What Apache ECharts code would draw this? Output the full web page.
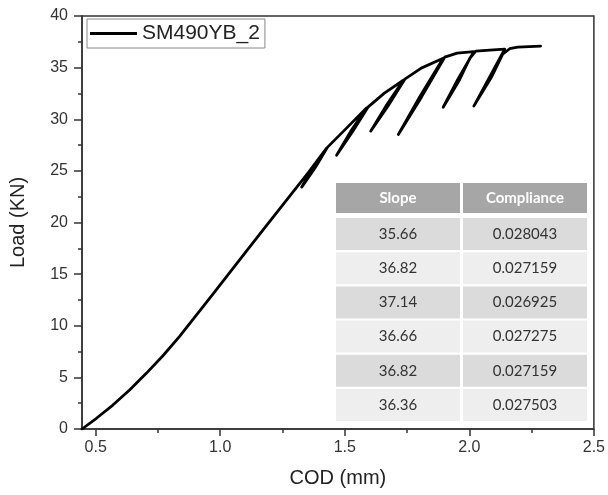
<!DOCTYPE html>
<html><head><meta charset="utf-8">
<script src="https://cdn.jsdelivr.net/npm/echarts@6/dist/echarts.min.js"></script>
<style>html,body{margin:0;padding:0;background:#fff}#c{width:608px;height:495px}</style>
</head><body><div id="c"></div>
<script>
const seriesName = 'SM490YB_2';
// [COD (mm), Load (KN)], in drawing order
const codLoad = [
  [0.445, 0.00], [0.503, 1.04], [0.569, 2.32], [0.636, 3.78], [0.703, 5.39],
  [0.769, 7.07], [0.836, 8.94], [0.969, 13.02], [1.102, 17.13], [1.168, 19.17],
  [1.282, 22.65], [1.355, 24.88],
  [1.427, 27.20], [1.373, 25.31], [1.327, 23.43], [1.381, 25.31], [1.431, 27.30],
  [1.507, 29.14],
  [1.587, 31.08], [1.523, 28.80], [1.467, 26.52], [1.531, 28.80], [1.593, 31.17],
  [1.659, 32.53],
  [1.735, 33.78], [1.665, 31.27], [1.604, 28.85], [1.673, 31.27], [1.741, 33.88],
  [1.807, 34.95],
  [1.895, 35.91], [1.801, 32.19], [1.715, 28.53], [1.809, 32.19], [1.901, 36.01],
  [1.951, 36.40],
  [2.018, 36.54], [1.953, 33.83], [1.895, 31.17], [1.961, 33.83], [2.002, 35.91], [2.026, 36.59],
  [2.082, 36.69],
  [2.142, 36.79], [2.080, 34.03], [2.018, 31.27], [2.088, 34.03], [2.134, 36.30], [2.162, 36.83],
  [2.194, 36.98], [2.286, 37.08]
];
const xMajorTicks = [0.5, 1.0, 1.5, 2.0, 2.5];
const xMinorTicks = [0.75, 1.25, 1.75, 2.25];
const tableHeaders = ['Slope', 'Compliance'];
const slopes = [35.66, 36.82, 37.14, 36.66, 36.82, 36.36];
const compliances = ['0.028043', '0.027159', '0.026925', '0.027275', '0.027159', '0.027503'];

const FONT = 'Liberation Sans, Arial, sans-serif';
const AX = '#333';

// table inset (graphic)
const T = {left: 336, top: 183, colW: 124, colGap: 3, headH: 30, rowTop: 218, pitch: 34.2, rowH: 32};
const tableEls = [];
tableHeaders.forEach((h, j) => {
  const x = T.left + j * (T.colW + T.colGap);
  tableEls.push({type: 'rect', shape: {x: x, y: T.top, width: T.colW, height: T.headH}, style: {fill: '#a6a6a6'}});
  tableEls.push({type: 'text', x: x + T.colW / 2, y: T.top + T.headH / 2,
    style: {text: h, fill: '#ffffff', font: 'bold 15px Lato, sans-serif', align: 'center', verticalAlign: 'middle'}});
});
slopes.forEach((s, i) => {
  const y = T.rowTop + i * T.pitch;
  const fill = i % 2 === 0 ? '#dbdbdb' : '#eeeeee';
  const vals = [s.toFixed(2), compliances[i]];
  vals.forEach((v, j) => {
    const x = T.left + j * (T.colW + T.colGap);
    tableEls.push({type: 'rect', shape: {x: x, y: y, width: T.colW, height: T.rowH}, style: {fill: fill}});
    tableEls.push({type: 'text', x: x + T.colW / 2, y: y + T.rowH / 2,
      style: {text: v, fill: '#333333', font: '15px Lato, sans-serif', align: 'center', verticalAlign: 'middle'}});
  });
});

const chart = echarts.init(document.getElementById('c'), null, {renderer: 'canvas'});
chart.setOption({
  animation: false,
  backgroundColor: '#fff',
  grid: {left: 82, right: 11, top: 16, bottom: 66, show: true, borderColor: AX, borderWidth: 1.5},
  legend: {
    left: 87, top: 19, orient: 'vertical',
    borderColor: '#888', borderWidth: 1, padding: [4, 5, 4, 3],
    itemWidth: 47, itemHeight: 3, itemGap: 0, icon: 'rect',
    textStyle: {fontFamily: FONT, fontSize: 21, color: '#222'},
    data: [seriesName]
  },
  xAxis: [{
    type: 'value', min: 0.445, max: 2.5,
    name: 'COD (mm)', nameLocation: 'middle', nameGap: 39,
    nameTextStyle: {fontFamily: FONT, fontSize: 20, color: '#222'},
    axisLine: {lineStyle: {color: AX, width: 1.5}},
    axisTick: {customValues: xMajorTicks, length: 7, lineStyle: {color: AX, width: 1.5}},
    axisLabel: {customValues: xMajorTicks, margin: 11, fontFamily: FONT, fontSize: 16, color: '#333',
      formatter: v => v.toFixed(1)},
    splitLine: {show: false}
  }, {
    type: 'value', min: 0.445, max: 2.5, position: 'bottom',
    axisLine: {show: false},
    axisTick: {customValues: xMinorTicks, length: 4, lineStyle: {color: AX, width: 1.5}},
    axisLabel: {show: false},
    splitLine: {show: false}
  }],
  yAxis: {
    type: 'value', min: 0, max: 40, interval: 5,
    name: 'Load (KN)', nameLocation: 'middle', nameGap: 54,
    nameTextStyle: {fontFamily: FONT, fontSize: 20, color: '#222'},
    axisLine: {show: true, lineStyle: {color: AX, width: 1.5}},
    axisTick: {show: true, length: 8, lineStyle: {color: AX, width: 1.5}},
    minorTick: {show: true, splitNumber: 2, length: 4, lineStyle: {color: AX, width: 1.5}},
    axisLabel: {margin: 14, fontFamily: FONT, fontSize: 16, color: '#333'},
    splitLine: {show: false}
  },
  series: [{
    name: seriesName, type: 'line', data: codLoad, xAxisIndex: 0,
    symbol: 'none', showSymbol: false,
    lineStyle: {color: '#000', width: 2.8, join: 'round', cap: 'round'},
    itemStyle: {color: '#000'}
  }],
  graphic: [{type: 'group', z: 100, children: tableEls}]
});
</script></body></html>
